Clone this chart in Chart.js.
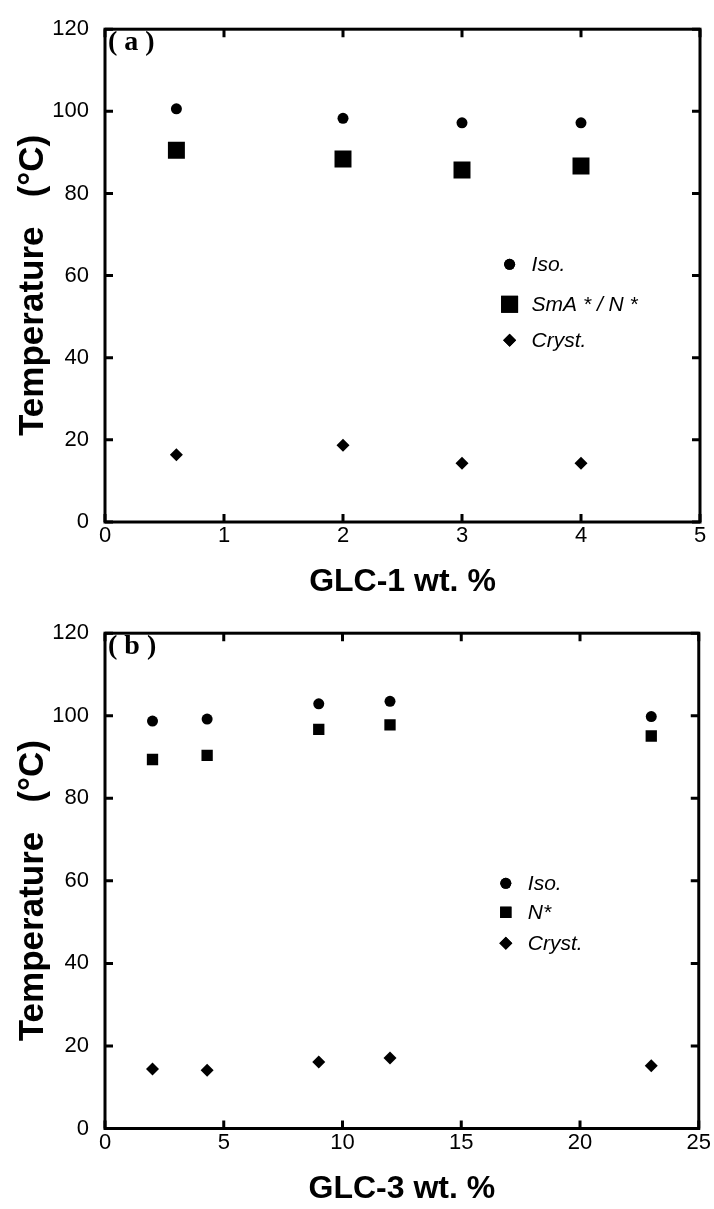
<!DOCTYPE html>
<html>
<head>
<meta charset="utf-8">
<script src="https://cdn.jsdelivr.net/npm/chart.js@4.4.0/dist/chart.umd.min.js"></script>
<style>
  html, body { margin: 0; padding: 0; background: #fff; }
  .wrap { position: relative; width: 714px; }
  #wrapA { height: 604px; }
  #wrapB { height: 605px; }
</style>
</head>
<body>
<div class="wrap" id="wrapA"><canvas id="chartA"></canvas></div>
<div class="wrap" id="wrapB"><canvas id="chartB"></canvas></div>
<script>
// panel (a): GLC-1 content
const glc1 = [0.6, 2, 3, 4];
const isoA = [100.6, 98.3, 97.2, 97.2];
const smaA = [90.5, 88.4, 85.7, 86.7];
const crystA = [16.4, 18.7, 14.3, 14.3];

// panel (b): GLC-3 content
const glc3 = [2, 4.3, 9, 12, 23];
const isoB = [98.7, 99.2, 102.9, 103.5, 99.8];
const nB = [89.4, 90.4, 96.7, 97.8, 95.1];
const crystB = [14.4, 14.1, 16.1, 17.1, 15.2];

const FONT = '"Liberation Sans", Arial, sans-serif';

function pts(xs, ys) {
	return xs.map(function(v, i) { return {x: v, y: ys[i]}; });
}

function series(label, xs, ys, style, radius) {
	return {
		label: label,
		data: pts(xs, ys),
		pointStyle: style,
		pointRadius: radius,
		pointHoverRadius: radius,
		pointBorderWidth: 0,
		backgroundColor: '#000',
		borderColor: '#000'
	};
}

// frame with inward ticks on all four sides, panel tag and in-plot legend
const framePlugin = {
	id: 'frame',
	afterDatasetsDraw(chart, args, opts) {
		const ctx = chart.ctx;
		const a = chart.chartArea;
		const x = chart.scales.x;
		const y = chart.scales.y;
		const len = 8;
		ctx.save();
		ctx.strokeStyle = '#000';
		ctx.lineWidth = 3;
		ctx.beginPath();
		x.ticks.forEach(function(t) {
			const px = x.getPixelForValue(t.value);
			ctx.moveTo(px, a.bottom); ctx.lineTo(px, a.bottom - len);
			ctx.moveTo(px, a.top); ctx.lineTo(px, a.top + len);
		});
		y.ticks.forEach(function(t) {
			const py = y.getPixelForValue(t.value);
			ctx.moveTo(a.left, py); ctx.lineTo(a.left + len, py);
			ctx.moveTo(a.right, py); ctx.lineTo(a.right - len, py);
		});
		ctx.stroke();
		ctx.strokeRect(a.left, a.top, a.right - a.left, a.bottom - a.top);

		ctx.fillStyle = '#000';
		ctx.font = 'bold 28px "Liberation Serif", "Times New Roman", serif';
		ctx.textBaseline = 'middle';
		ctx.textAlign = 'left';
		ctx.fillText(opts.tag, a.left + 3, a.top + 14);

		const lg = opts.legend;
		const lx = a.left + lg.x * (a.right - a.left);
		let ly = a.top + lg.y * (a.bottom - a.top);
		ctx.font = 'italic 21px ' + FONT;
		chart.data.datasets.forEach(function(ds, i) {
			Chart.helpers.drawPoint(ctx, {
				pointStyle: ds.pointStyle,
				radius: lg.radius[i],
				rotation: 0,
				borderWidth: 0
			}, lx, ly);
			ctx.fill();
			ctx.fillText(ds.label, lx + 22, ly + 1);
			ly += lg.gap[i];
		});
		ctx.restore();
	}
};

function makeChart(id, cfg) {
	return new Chart(document.getElementById(id), {
		type: 'scatter',
		data: {datasets: cfg.datasets},
		options: {
			responsive: true,
			maintainAspectRatio: false,
			animation: false,
			layout: {padding: {top: cfg.top, right: 14, left: 0, bottom: 0}},
			plugins: {
				legend: {display: false},
				tooltip: {enabled: false},
				frame: {tag: cfg.tag, legend: cfg.legend}
			},
			scales: {
				x: {
					type: 'linear',
					min: 0,
					max: cfg.xMax,
					ticks: {stepSize: cfg.xStep, color: '#000', padding: 3, font: {size: 22, family: FONT, lineHeight: 1}},
					grid: {display: false, drawTicks: false},
					border: {display: false},
					title: {
						display: true,
						text: cfg.xTitle,
						color: '#000',
						font: {size: 32, weight: 'bold', family: FONT, lineHeight: 1},
						padding: {top: 0, bottom: cfg.xTitlePad}
					},
					afterFit: function(s) { s.height = cfg.xHeight; }
				},
				y: {
					type: 'linear',
					min: 0,
					max: 120,
					ticks: {stepSize: 20, color: '#000', padding: 16, font: {size: 22, family: FONT}},
					grid: {display: false, drawTicks: false},
					border: {display: false},
					title: {
						display: true,
						// trailing spaces nudge the rotated text down, as in the source figure
						text: 'Temperature   (°C)  ',
						color: '#000',
						font: {size: 35, weight: 'bold', family: FONT, lineHeight: 1},
						padding: {top: 16, bottom: 0}
					},
					afterFit: function(s) { s.width = 105; }
				}
			}
		},
		plugins: [framePlugin]
	});
}

makeChart('chartA', {
	tag: '( a )',
	xTitle: 'GLC-1 wt. %',
	xMax: 5,
	xStep: 1,
	top: 22,
	xHeight: 82,
	xTitlePad: 6,
	legend: {x: 0.68, y: 0.477, gap: [40, 36, 0], radius: [5.5, 12, 6.5]},
	datasets: [
		series('Iso.', glc1, isoA, 'circle', 5.5),
		series('SmA * / N *', glc1, smaA, 'rect', 12),
		series('Cryst.', glc1, crystA, 'rectRot', 6.5)
	]
});

makeChart('chartB', {
	tag: '( b )',
	xTitle: 'GLC-3 wt. %',
	xMax: 25,
	xStep: 5,
	top: 25,
	xHeight: 80.5,
	xTitlePad: 4,
	legend: {x: 0.675, y: 0.505, gap: [29, 31, 0], radius: [5.5, 8, 6.5]},
	datasets: [
		series('Iso.', glc3, isoB, 'circle', 5.5),
		series('N*', glc3, nB, 'rect', 8),
		series('Cryst.', glc3, crystB, 'rectRot', 6.5)
	]
});
</script>
</body>
</html>
